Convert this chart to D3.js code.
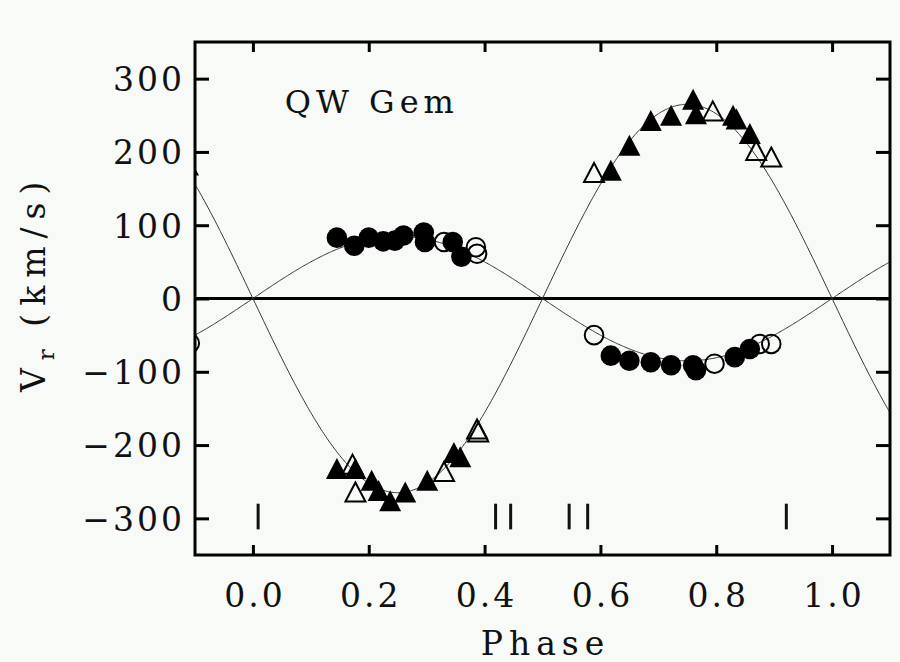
<!DOCTYPE html>
<html>
<head>
<meta charset="utf-8">
<script src="https://cdn.jsdelivr.net/npm/d3@7"></script>
</head>
<body style="margin:0;background:#f7faf7">
<div id="chart"></div>
<script>
// radial velocity data
// primary (triangles), filled and open
var priFilled = [
  [0.145, -232], [0.177, -232], [0.205, -248], [0.217, -262], [0.237, -276],
  [0.263, -264], [0.301, -248], [0.347, -210], [0.358, -216],
  [0.618, 175], [0.650, 209], [0.687, 243], [0.722, 250], [0.760, 272],
  [0.765, 252], [0.829, 250], [0.835, 245], [0.858, 225], [-0.112, 182]
];
var priOpen = [
  [0.172, -226], [0.177, -264], [0.330, -236], [0.387, -178], [0.389, -182],
  [0.589, 172], [0.794, 256], [0.869, 202], [0.895, 193]
];
// secondary (circles), filled and open
var secFilled = [
  [0.145, 83], [0.175, 72], [0.200, 83], [0.225, 78], [0.245, 79],
  [0.260, 86], [0.295, 90], [0.297, 77], [0.345, 77], [0.360, 57],
  [0.618, -78], [0.650, -85], [0.687, -87], [0.722, -91], [0.760, -91],
  [0.765, -98], [0.832, -80], [0.858, -69]
];
var secOpen = [
  [0.330, 77], [0.385, 70], [0.387, 61],
  [0.589, -50], [0.797, -89], [0.875, -62], [0.895, -62], [-0.109, -61]
];
// phase marks near the bottom
var markPhases = [0.009, 0.419, 0.445, 0.546, 0.578, 0.921];

// orbit fit: semi-amplitudes (km/s), systemic velocity 0
var K1 = 265;
var K2 = 85;

var xTicks = [0.0, 0.2, 0.4, 0.6, 0.8, 1.0];
var yTicks = [-300, -200, -100, 0, 100, 200, 300];

var fontName = "DejaVu Serif";

var svgWidth = 900;
var svgHeight = 662;
var margin = { top: 42, right: 10, bottom: 107, left: 195 };
var chartWidth = svgWidth - margin.left - margin.right;
var chartHeight = svgHeight - margin.top - margin.bottom;

var svg = d3.select("#chart").append("svg")
  .attr("width", svgWidth)
  .attr("height", svgHeight);

svg.append("rect").attr("width", svgWidth).attr("height", svgHeight).attr("fill", "#f7faf7");

var chartGroup = svg.append("g")
  .attr("transform", `translate(${margin.left}, ${margin.top})`);

var x = d3.scaleLinear().domain([-0.1, 1.1]).range([0, chartWidth]);
var y = d3.scaleLinear().domain([-350, 350]).range([chartHeight, 0]);

chartGroup.append("clipPath").attr("id", "clip")
  .append("rect").attr("width", chartWidth).attr("height", chartHeight);

var plot = chartGroup.append("g").attr("clip-path", "url(#clip)");

// zero line
plot.append("line")
  .attr("x1", 0).attr("x2", chartWidth)
  .attr("y1", y(0)).attr("y2", y(0))
  .attr("stroke", "#000").attr("stroke-width", 3);

// fitted curves
var phases = d3.range(-0.1, 1.1001, 0.002);
var line = d3.line().x(d => x(d[0])).y(d => y(d[1]));
plot.append("path")
  .datum(phases.map(p => [p, -K1 * Math.sin(2 * Math.PI * p)]))
  .attr("d", line).attr("fill", "none").attr("stroke", "#333").attr("stroke-width", 1);
plot.append("path")
  .datum(phases.map(p => [p, K2 * Math.sin(2 * Math.PI * p)]))
  .attr("d", line).attr("fill", "none").attr("stroke", "#333").attr("stroke-width", 1);

// phase marks
plot.selectAll(".mark").data(markPhases).enter().append("line")
  .attr("x1", d => x(d)).attr("x2", d => x(d))
  .attr("y1", y(-280)).attr("y2", y(-315))
  .attr("stroke", "#111").attr("stroke-width", 3);

var tri = "M0,-10.5L11,10.5L-11,10.5Z";

plot.selectAll(".cf").data(secFilled).enter().append("circle")
  .attr("cx", d => x(d[0])).attr("cy", d => y(d[1])).attr("r", 10.3)
  .attr("fill", "#000");
plot.selectAll(".co").data(secOpen).enter().append("circle")
  .attr("cx", d => x(d[0])).attr("cy", d => y(d[1])).attr("r", 9.3)
  .attr("fill", "none").attr("stroke", "#000").attr("stroke-width", 2);

plot.selectAll(".tf").data(priFilled).enter().append("path")
  .attr("d", tri)
  .attr("transform", d => `translate(${x(d[0])},${y(d[1])})`)
  .attr("fill", "#000");
plot.selectAll(".to").data(priOpen).enter().append("path")
  .attr("d", "M0,-9.5L10,9.5L-10,9.5Z")
  .attr("transform", d => `translate(${x(d[0])},${y(d[1])})`)
  .attr("fill", "none").attr("stroke", "#000").attr("stroke-width", 2);

// axes
var bottomAxis = d3.axisBottom(x).tickValues(xTicks).tickSize(-10).tickPadding(29).tickFormat(d3.format(".1f"));
var topAxis = d3.axisTop(x).tickValues(xTicks).tickSize(-10).tickFormat("");
var leftAxis = d3.axisLeft(y).tickValues(yTicks).tickSize(-14).tickPadding(13).tickFormat(d3.format("d"));
var rightAxis = d3.axisRight(y).tickValues(yTicks).tickSize(-14).tickFormat("");

var gx = chartGroup.append("g").attr("transform", `translate(0, ${chartHeight})`).call(bottomAxis);
chartGroup.append("g").call(topAxis);
var gy = chartGroup.append("g").call(leftAxis);
chartGroup.append("g").attr("transform", `translate(${chartWidth}, 0)`).call(rightAxis);

chartGroup.selectAll(".domain").remove();
chartGroup.selectAll(".tick line").attr("stroke", "#000").attr("stroke-width", 3);
chartGroup.selectAll(".tick text")
  .attr("font-family", fontName)
  .attr("font-size", 33)
  .attr("letter-spacing", 3)
  .attr("fill", "#111");
gx.selectAll(".tick text").attr("dx", 1.5);
gy.selectAll(".tick text").attr("dx", 3).attr("dy", "0.36em");

// frame
chartGroup.append("rect")
  .attr("width", chartWidth).attr("height", chartHeight)
  .attr("fill", "none").attr("stroke", "#000").attr("stroke-width", 3);

// labels
chartGroup.append("text")
  .attr("x", x(0.055)).attr("y", y(253))
  .attr("font-family", fontName)
  .attr("font-size", 32).attr("letter-spacing", 5)
  .attr("fill", "#111")
  .text("QW Gem");

chartGroup.append("text")
  .attr("x", chartWidth / 2 + 3).attr("y", svgHeight - margin.top - 7)
  .attr("text-anchor", "middle")
  .attr("font-family", fontName)
  .attr("font-size", 33).attr("letter-spacing", 6)
  .attr("fill", "#111")
  .text("Phase");

var ylab = svg.append("text")
  .attr("transform", "rotate(-90)")
  .attr("x", -392).attr("y", 45)
  .attr("font-family", fontName)
  .attr("font-size", 33).attr("letter-spacing", 8)
  .attr("fill", "#111");
ylab.append("tspan").text("V");
ylab.append("tspan").attr("dy", 9).attr("font-size", 23).attr("letter-spacing", 4).text("r");
ylab.append("tspan").attr("dy", -9).text(" (km/s)");
</script>
</body>
</html>
